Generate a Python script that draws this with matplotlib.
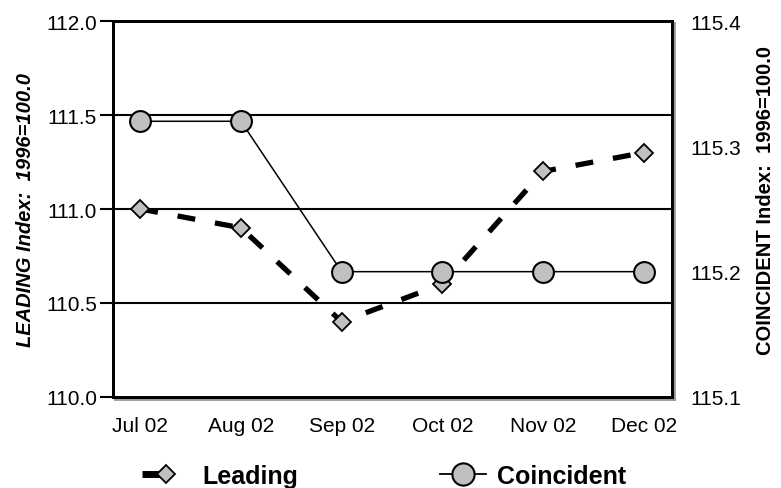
import matplotlib.pyplot as plt
import matplotlib.patheffects as pe
from matplotlib.lines import Line2D

plt.switch_backend('Agg')
plt.rcParams['font.family'] = ['Liberation Sans', 'DejaVu Sans']

months = ['Jul 02', 'Aug 02', 'Sep 02', 'Oct 02', 'Nov 02', 'Dec 02']
leading = [111.0, 110.9, 110.4, 110.6, 111.2, 111.3]
coincident = [115.32, 115.32, 115.2, 115.2, 115.2, 115.2]
left_ticks = [110.0, 110.5, 111.0, 111.5, 112.0]
right_ticks = [115.1, 115.2, 115.3, 115.4]

W, H = 781, 489
fig = plt.figure(figsize=(W / 100, H / 100), dpi=100)
ax = fig.add_axes([0.1447, 0.1861, 0.7157, 0.7689])
ax2 = ax.twinx()

x = list(range(len(months)))
GRAY = '#c0c0c0'

# leading index: heavy dashed line with diamonds
ax.plot(x, leading, color='black', linewidth=3.8, dashes=(3.4, 3.8),
        marker='D', markersize=9, markerfacecolor=GRAY,
        markeredgecolor='black', markeredgewidth=1.3, zorder=5)

# coincident index on its own scale
ax2.plot(x, coincident, color='black', linewidth=1.1, marker='o',
         markersize=15, markerfacecolor=GRAY, markeredgecolor='black',
         markeredgewidth=1.5, zorder=5)

ax.set_xlim(-0.27, 5.28)
ax.set_ylim(110.0, 112.0)
ax2.set_ylim(115.1, 115.4)

ax.set_yticks(left_ticks)
ax.set_yticklabels([f'{v:.1f}' for v in left_ticks])
ax2.set_yticks(right_ticks)
ax2.set_yticklabels([f'{v:.1f}' for v in right_ticks])
ax.set_xticks(x)
ax.set_xticklabels(months)

for v in left_ticks[1:-1]:
    ax.axhline(v, color='black', linewidth=1.5, zorder=1)

ax.tick_params(axis='y', direction='out', length=9.5, width=1.5,
               labelsize=15, pad=2)
ax.tick_params(axis='x', length=0, labelsize=15, pad=14)
ax2.tick_params(axis='y', length=0, labelsize=15, pad=13)

ax.set_ylabel('LEADING Index:  1996=100.0', fontsize=14.5, fontweight='bold',
              fontstyle='italic', labelpad=8)
ax2.set_ylabel('COINCIDENT Index:  1996=100.0', fontsize=14.5,
               fontweight='bold')
ax2.yaxis.set_label_coords(1.15, 0.524)

for a in (ax, ax2):
    for spine in a.spines.values():
        spine.set_linewidth(2)
        spine.set_color('black')

# grey drop shadow along the right and bottom frame
shadow = [pe.SimpleLineShadow(offset=(1.5, -1.5), shadow_color='#999999',
                              alpha=1.0), pe.Normal()]
ax2.spines['right'].set_path_effects(shadow)
ax.spines['bottom'].set_path_effects(shadow)


def fx(px):
    return px / W


def fy(py):
    return 1 - py / H


# legend drawn below the plot
leg_y = 475
fig.add_artist(Line2D([fx(142), fx(160)], [fy(leg_y), fy(leg_y)],
                      transform=fig.transFigure, color='black',
                      linewidth=5, solid_capstyle='butt'))
fig.add_artist(Line2D([fx(166)], [fy(leg_y)], transform=fig.transFigure,
                      linestyle='none', marker='D', markersize=9,
                      markerfacecolor=GRAY, markeredgecolor='black',
                      markeredgewidth=1.3))
fig.text(fx(202), fy(leg_y + 2), 'Leading', fontsize=18, fontweight='bold',
         va='center', ha='left')

fig.add_artist(Line2D([fx(440), fx(486)], [fy(leg_y), fy(leg_y)],
                      transform=fig.transFigure, color='black', linewidth=1.3))
fig.add_artist(Line2D([fx(463)], [fy(leg_y)], transform=fig.transFigure,
                      linestyle='none', marker='o', markersize=16,
                      markerfacecolor=GRAY, markeredgecolor='black',
                      markeredgewidth=1.5))
fig.text(fx(497), fy(leg_y + 2), 'Coincident', fontsize=18, fontweight='bold',
         va='center', ha='left')

fig.savefig('out.png', dpi=100)
